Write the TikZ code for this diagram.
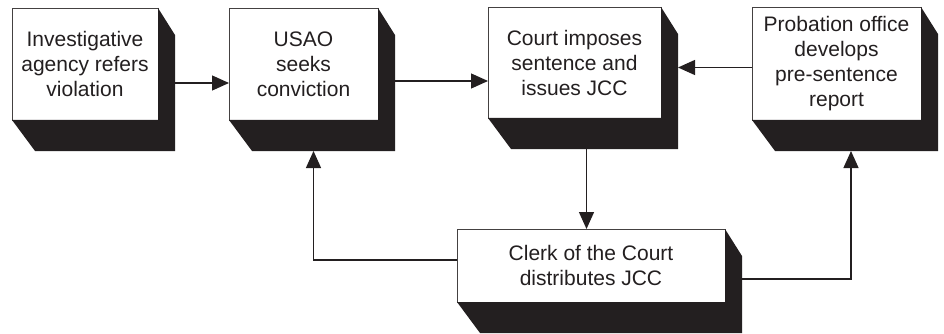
\documentclass[tikz,border=0pt]{standalone}
\usepackage{fontspec}
\setmainfont{Liberation Sans}
\usetikzlibrary{arrows.meta,calc}
\definecolor{ink}{HTML}{231F20}
\tikzset{
  box/.style={draw=ink!85, line width=0.9pt, fill=white, inner sep=0pt, outer sep=0pt,
    align=center, text=ink, font=\fontsize{21}{25}\selectfont},
  shade3d/.style={fill=ink, draw=none},
  arr/.style={draw=ink, line width=1.3pt, -{Triangle[length=17pt,width=15pt]}}
}
\newcommand{\extrude}[1]{%
  \fill[shade3d] (#1.north east) -- ++(17,27) -- ($(#1.south east)+(17,31)$)
    -- ($(#1.south west)+(23,31)$) -- (#1.south west) -- (#1.south east) -- cycle;}
\begin{document}
\begin{tikzpicture}[x=1pt,y=-1pt]
\useasboundingbox (0,0) rectangle (944,334);
\node[box, minimum width=146pt, minimum height=112pt] (b1) at (85,64) {Investigative\\agency refers\\violation};
\node[box, minimum width=149pt, minimum height=112pt] (b2) at (303.5,64) {USAO\\seeks\\conviction};
\node[box, minimum width=173pt, minimum height=111pt] (b3) at (574.5,62.5) {Court imposes\\sentence and\\issues JCC};
\node[box, minimum width=169pt, minimum height=113pt] (b4) at (836.5,63.5) {Probation office\\develops\\pre-sentence\\report};
\node[box, minimum width=268pt, minimum height=73pt] (b5) at (591,265.5) {Clerk of the Court\\distributes JCC};
\extrude{b1}\extrude{b2}\extrude{b3}\extrude{b4}\extrude{b5}
\coordinate (b3r) at ([xshift=17pt]b3.east);
\draw[arr] ([xshift=17pt,yshift=-19pt]b1.east) coordinate (s1) -- (s1 -| b2.west);
\draw[arr] ([xshift=17pt,yshift=-17pt]b2.east) coordinate (s2) -- (s2 -| b3.west);
\draw[arr] ([yshift=-4pt]b4.west) coordinate (s4) -- (s4 -| b3r);
\draw[arr] ([xshift=12pt,yshift=-31pt]b3.south) coordinate (s3) -- (s3 |- b5.north);
\draw[arr] ([yshift=5.5pt]b5.west) -| ([xshift=10pt,yshift=-31pt]b2.south);
\draw[arr] ([xshift=17pt,yshift=-13.5pt]b5.east) -| ([xshift=14.5pt,yshift=-31pt]b4.south);
\end{tikzpicture}
\end{document}
